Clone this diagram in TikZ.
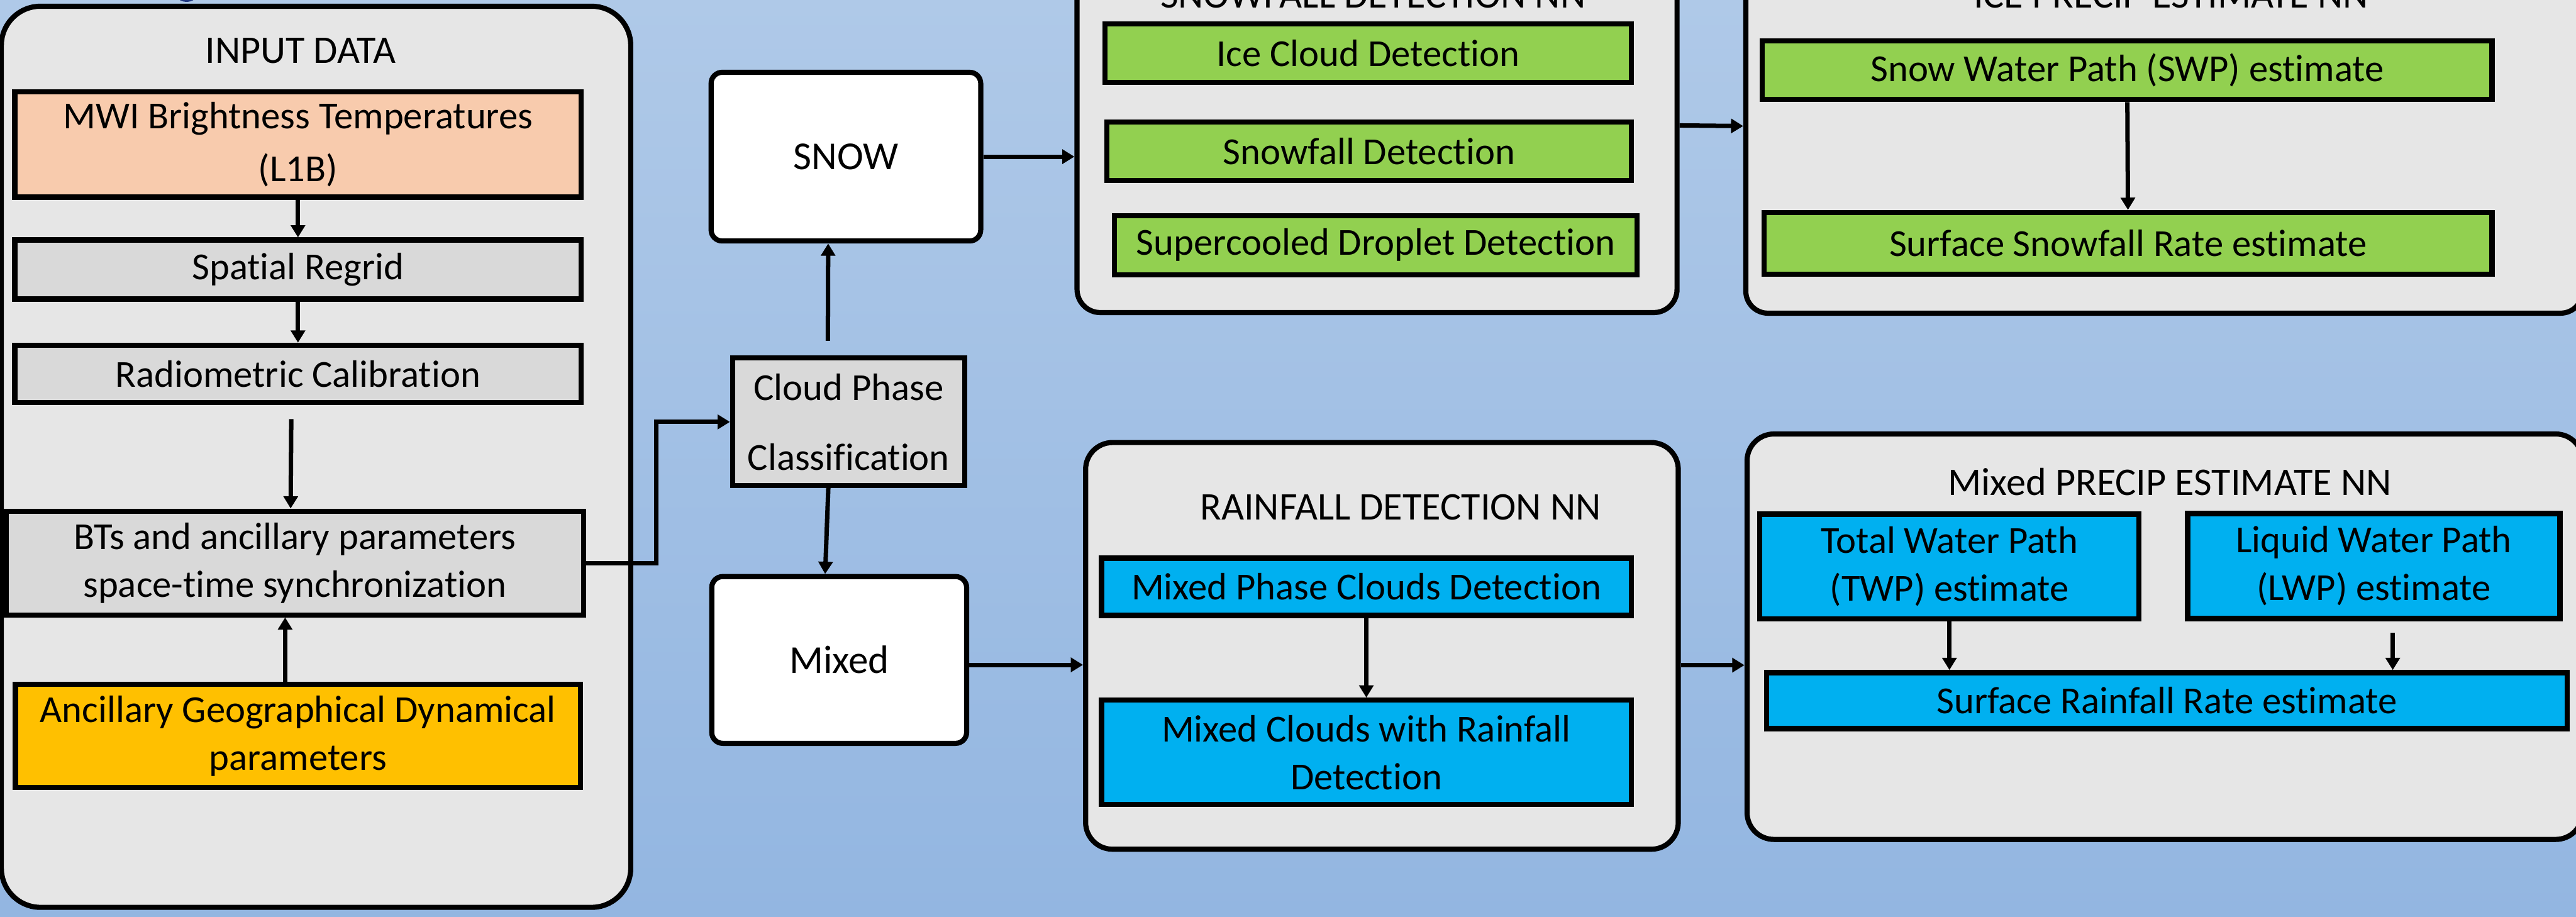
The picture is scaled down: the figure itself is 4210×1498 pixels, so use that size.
\documentclass[tikz,border=0pt]{standalone}
\usepackage{fontspec}
\setmainfont{Carlito}[Ligatures={NoCommon,NoContextual},RawFeature={-liga;-clig;-dlig}]
\usetikzlibrary{arrows.meta,calc}
\definecolor{bgtop}{RGB}{175,201,232}
\definecolor{bgbot}{RGB}{147,182,225}
\definecolor{contfill}{RGB}{230,230,230}
\definecolor{greybox}{RGB}{217,217,217}
\definecolor{peach}{RGB}{248,203,173}
\definecolor{amber}{RGB}{255,192,0}
\definecolor{leaf}{RGB}{146,208,80}
\definecolor{sky}{RGB}{0,176,240}
\definecolor{navy}{RGB}{32,56,130}
\newcommand\fs{\fontsize{15.6pt}{19.5pt}\selectfont}
\newcommand\ft{\fontsize{16pt}{19.5pt}\selectfont}
\newcommand\fm{\fontsize{16.2pt}{19.5pt}\selectfont}
\begin{document}
\begin{tikzpicture}[x=0.25pt,y=-0.25pt,
  every node/.style={font=\fs},
  cont/.style={draw, line width=2.1pt, fill=contfill, rounded corners=#1, inner sep=0pt},
  pbox/.style={draw, line width=2.1pt, inner sep=0pt, align=center},
  sz/.style 2 args={minimum width=#1*0.25pt-2.1pt, minimum height=#2*0.25pt-2.1pt},
  arr/.style={line width=1.8pt, -{Triangle[length=5pt,width=5.75pt]}},
  ttl/.style={font=\ft},
]
\useasboundingbox (0,0) rectangle (4210,1498);
\clip (0,0) rectangle (4210,1498);
\shade[top color=bgtop, bottom color=bgbot] (0,0) rectangle (4210,1498);
\fill[navy] (305,-6) ellipse [x radius=15, y radius=9];

% containers
\node[cont=16pt, sz={1037}{1481}] (inc) at (516.5,746.5) {};
\node[cont=9.5pt, sz={989}{620}] (snowc) at (2250.5,205) {};
\node[cont=9pt, sz={1376}{620}] (icec) at (3537,206) {};
\node[cont=11pt, sz={977}{673}] (rainc) at (2258.5,1055.5) {};
\node[cont=11pt, sz={1374}{671}] (precipc) at (3538,1040.5) {};

% titles
\node[ttl] (tin) at (491,83) {INPUT DATA};
\node[ttl, anchor=base] (tsnow) at (2244,13) {SNOWFALL DETECTION NN};
\node[ttl, anchor=base] (tice) at (3548,13) {ICE PRECIP ESTIMATE NN};
\node[ttl] (train) at (2289,829) {RAINFALL DETECTION NN};
\node[ttl] (tprecip) at (3546,787) {Mixed PRECIP ESTIMATE NN};

% input data column
\node[pbox, fill=peach, sz={934}{181}, font={\fontsize{15.6pt}{21.75pt}\selectfont}] (mwi) at (487,236) {MWI Brightness Temperatures\\(L1B)};
\node[pbox, fill=greybox, sz={934}{105}] (regrid) at (487,440.5) {Spatial Regrid};
\node[pbox, fill=greybox, sz={934}{102}] (calib) at (487,611) {Radiometric Calibration};
\node[pbox, fill=greybox, sz={952}{178}] (sync) at (482,920) {BTs and ancillary parameters\\space-time synchronization};
\node[pbox, fill=amber, sz={932}{177}] (anc) at (487,1202.5) {Ancillary Geographical Dynamical\\parameters};

% phase classification
\node[pbox, fill=greybox, sz={388}{217}, font={\fontsize{15.6pt}{28.5pt}\selectfont}] (phase) at (1387,689.5) {Cloud Phase\\Classification};
\node[pbox, fill=white, rounded corners=4.5pt, sz={449}{284}, font=\fm] (snow) at (1382.5,256) {SNOW};
\node[pbox, fill=white, rounded corners=4.5pt, sz={425}{281}, font=\fm] (mixed) at (1371.5,1078.5) {Mixed};

% snowfall detection
\node[pbox, fill=leaf, sz={868}{104}] (icecloud) at (2236,87) {Ice Cloud Detection};
\node[pbox, fill=leaf, sz={865}{104}] (snowdet) at (2237.5,247) {Snowfall Detection};
\node[pbox, fill=leaf, sz={863}{105}] (scd) at (2248.5,400.5) {Supercooled Droplet Detection};

% ice precip
\node[pbox, fill=leaf, sz={1201}{104}] (swp) at (3476.5,115) {Snow Water Path (SWP) estimate};
\node[pbox, fill=leaf, sz={1198}{109}] (ssr) at (3478,397.5) {Surface Snowfall Rate estimate};

% rainfall detection
\node[pbox, fill=sky, sz={874}{102}] (mpcd) at (2233,959) {Mixed Phase Clouds Detection};
\node[pbox, fill=sky, sz={874}{179}] (mcrd) at (2233,1229.5) {Mixed Clouds with Rainfall\\Detection};

% mixed precip
\node[pbox, fill=sky, sz={628}{180}] (twp) at (3186,926) {Total Water Path\\(TWP) estimate};
\node[pbox, fill=sky, sz={617}{180}] (lwp) at (3879.5,925) {Liquid Water Path\\(LWP) estimate};
\node[pbox, fill=sky, sz={1317}{100}] (srr) at (3541.5,1145) {Surface Rainfall Rate estimate};

% connectors
\draw[arr] (mwi) -- (regrid);
\draw[arr] (regrid) -- (calib);
\draw[arr] ([shift={(-11,23)}]calib.south) -- ([shift={(-7,0)}]sync.north);
\draw[arr] ([shift={(-21,0)}]anc.north) -- ([shift={(-16,0)}]sync.south);
\draw[arr] (sync.east) -- ++(115,0) |- (phase.west);
\draw[arr] ([shift={(-34,-24)}]phase.north) -- ([shift={(-29,0)}]snow.south);
\draw[arr] ([shift={(-33,-8)}]phase.south) -- ([shift={(-23,0)}]mixed.north);
\draw[arr] (snow.east) -- (snow.east -| snowc.west);
\draw[arr] (snowc.east) -- (icec.west);
\coordinate (mx) at ([shift={(0,8)}]mixed.east);
\draw[arr] (mx) -- (mx -| rainc.west);
\coordinate (rp) at ([shift={(0,31.5)}]rainc.east);
\draw[arr] (rp) -- (rp -| precipc.west);
\draw[arr] (mpcd) -- (mcrd);
\draw[arr] (swp) -- (ssr);
\draw[arr] (twp.south) -- (twp.south |- srr.north);
\coordinate (lw) at ([shift={(31,19)}]lwp.south);
\draw[arr] (lw) -- (lw |- srr.north);
\end{tikzpicture}
\end{document}
